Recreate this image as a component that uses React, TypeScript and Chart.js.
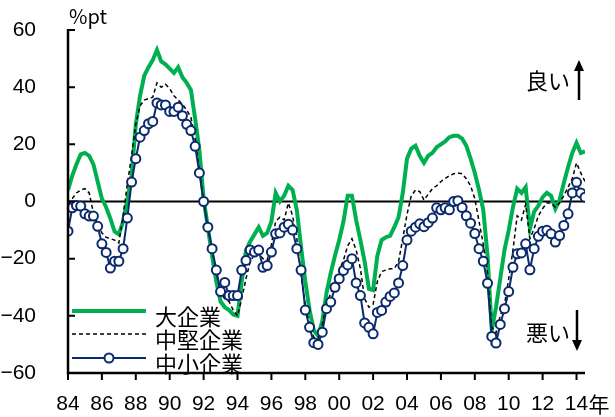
import React, { useEffect, useRef } from "react";
import { Chart, registerables } from "chart.js";

Chart.register(...registerables);

// Quarterly data starting 1984 Q1
const START_YEAR = 1984;
const END_YEAR = 2014.5;

const largeDI = [
  4, 9, 13, 16.5, 17, 16, 13, 7, 1, -2,
  -6, -10.5, -11.5, -7, 0.5, 9, 27, 37, 44, 47,
  49.5, 53, 49, 48, 46.5, 45, 47, 43.5, 41.5, 39,
  29, 18, 1, -9, -19, -28, -35, -37, -38, -39.5,
  -40, -28, -17, -14, -11.5, -9, -12, -11, -7, 3,
  0, 2, 5.5, 4, -3, -16, -28, -38, -45, -47,
  -42, -32, -25, -19, -13.5, -7, 2, 2, -6.5, -13.5,
  -21, -30.5, -31, -19, -13.5, -12.5, -12, -9, -5.5, 3,
  15, 18.5, 19.5, 16, 13.5, 16, 17, 19, 20, 21,
  22.5, 23, 23, 22, 19.5, 15, 10, 4, -3, -19,
  -45, -37, -27, -17, -10, -2, 4.5, 3, 5, -9.5,
  -3.5, -1.5, 1.5, 3, 2, -2.5, 0.5, 6.5, 12, 17,
  20.5, 17, 17.5,
];

const mediumDI = [
  -1, 1, 3, 4, 4.5, 3, -4, -8, -11, -12.5,
  -13, -13.5, -14.5, -5, 6, 16, 27, 33.5, 35.5, 36,
  36.5, 41.5, 40, 41, 39.5, 37, 35.5, 34, 32, 29.5,
  22, 11, 0.5, -9, -17, -25, -32, -34, -35, -38,
  -40, -34, -27, -21, -18.5, -18, -20, -20.5, -15, -7,
  -5.5, -6.5, -0.5, -5, -13, -26, -36, -43, -47.5, -48,
  -43, -36, -32, -28, -24, -20.5, -15.5, -13, -17, -23.5,
  -34, -37, -36, -28, -24.5, -24, -23.5, -23.5, -21, -13,
  -4.5, 2, 4, 3.5, 0.5, 2.5, 4.5, 5.5, 7, 8,
  9, 9.7, 10, 9.7, 8, 5.5, 1, -7, -15, -25,
  -44, -46, -40, -36, -27, -17, -5, -6.5, -1, -13,
  -9.5, -5, -2.5, -0.5, -0.5, -2, -0.5, 2, 5, 8,
  13.5, 10, 7,
];

const smallDI = [
  -10.4, -2.2, -1.4, -1.6, -4.3, -5.1, -5.1, -8.7, -14.8, -17.8,
  -23.3, -20.9, -20.9, -16.5, -5.8, 6.8, 15, 22.5, 24.8, 27.2,
  28, 34.5, 33.8, 33.8, 31.5, 31.5, 33, 30, 27, 24.8,
  19.3, 10, 0, -9, -16.5, -24, -31.5, -28.3, -32.9, -32.9,
  -32.9, -24, -20.6, -17, -17.7, -17, -23, -22.4, -17.7, -11.3,
  -11, -9, -8, -10, -16.5, -24, -38, -44, -49.4, -50,
  -45.7, -37.5, -35.2, -30, -27, -24.1, -22.2, -20, -28.5, -32.9,
  -42.5, -44, -46.3, -38.8, -38.1, -35.2, -33.2, -32, -28.5, -22.4,
  -13.5, -10.4, -9, -7.8, -8.8, -7.4, -5.8, -2.2, -2.9, -2.2,
  -2.9, 0, 0.3, -2.1, -5, -7.6, -11.2, -16.5, -20.9, -28.6,
  -47.2, -49.5, -43, -37.5, -31.5, -23, -18.3, -18, -14.8, -23.9,
  -16.5, -12.2, -10.4, -10.1, -11.3, -14.2, -11.9, -8.4, -4.3, 3,
  6.7, 3, 1.5,
];

const yearTickLabels = [
  "84", "86", "88", "90", "92", "94", "96", "98",
  "00", "02", "04", "06", "08", "10", "12", "14",
];
const yearSuffix = "年";
const yTickValues = [-60, -40, -20, 0, 20, 40, 60];
const legendLabels = ["大企業", "中堅企業", "中小企業"];
const unitLabel = "%pt";
const upLabel = "良い";
const downLabel = "悪い";

const GREEN = "#00B050";
const NAVY = "#0B2A6E";
const JP_FONT = '"Noto Sans CJK JP", "Noto Sans", sans-serif';
const NUM_FONT = '"Liberation Sans", Arial, sans-serif';

const toPoints = (arr: number[]) =>
  arr.map((v, i) => ({ x: START_YEAR + i / 4, y: v }));

const overlayPlugin = {
  id: "overlay",
  beforeDatasetsDraw(chart: any) {
    const { ctx, chartArea, scales } = chart;
    const y0 = scales.y.getPixelForValue(0);
    ctx.save();
    ctx.strokeStyle = "#000";
    ctx.lineWidth = 2;
    ctx.beginPath();
    ctx.moveTo(chartArea.left, y0);
    ctx.lineTo(chartArea.right, y0);
    ctx.stroke();
    ctx.restore();
  },
  afterDatasetsDraw(chart: any) {
    const { ctx, chartArea, scales } = chart;
    const { left, right, top, bottom } = chartArea;
    const xs = scales.x;
    const ys = scales.y;
    ctx.save();
    ctx.strokeStyle = "#000";
    ctx.lineWidth = 2.5;
    ctx.beginPath();
    ctx.moveTo(left, top - 1);
    ctx.lineTo(left, bottom);
    ctx.lineTo(right, bottom);
    ctx.stroke();

    ctx.lineWidth = 2;
    ctx.beginPath();
    yTickValues.forEach((v) => {
      const py = ys.getPixelForValue(v);
      ctx.moveTo(left, py);
      ctx.lineTo(left + 7, py);
    });
    xs.ticks.forEach((t: any) => {
      const px = xs.getPixelForValue(t.value);
      ctx.moveTo(px, bottom);
      ctx.lineTo(px, bottom + 7);
    });
    ctx.stroke();

    // year suffix after last tick label
    const lastTick = xs.ticks[xs.ticks.length - 1];
    const lastPx = xs.getPixelForValue(lastTick.value);
    ctx.fillStyle = "#000";
    ctx.font = `21px ${JP_FONT}`;
    ctx.textAlign = "left";
    ctx.textBaseline = "middle";
    ctx.fillText(yearSuffix, lastPx + 12, 404);

    // unit label
    ctx.font = `20px ${JP_FONT}`;
    ctx.fillText(unitLabel, 69, 16);

    // good / bad annotations
    ctx.font = `22px ${JP_FONT}`;
    ctx.fillText(upLabel, 526, 81);
    ctx.fillText(downLabel, 526, 333);

    const drawArrow = (x: number, y1: number, y2: number) => {
      const dir = y2 < y1 ? -1 : 1;
      ctx.lineWidth = 2.5;
      ctx.beginPath();
      ctx.moveTo(x, y1);
      ctx.lineTo(x, y2 - dir * 9);
      ctx.stroke();
      ctx.beginPath();
      ctx.moveTo(x, y2);
      ctx.lineTo(x - 5, y2 - dir * 11);
      ctx.lineTo(x + 5, y2 - dir * 11);
      ctx.closePath();
      ctx.fill();
    };
    drawArrow(579, 100, 60);
    drawArrow(577, 310, 351);

    // legend
    const lx1 = 72;
    const lx2 = 146;
    const rows = [311, 334, 358];
    ctx.lineWidth = 4;
    ctx.strokeStyle = GREEN;
    ctx.beginPath();
    ctx.moveTo(lx1, rows[0]);
    ctx.lineTo(lx2, rows[0]);
    ctx.stroke();

    ctx.lineWidth = 1.5;
    ctx.strokeStyle = "#000";
    ctx.setLineDash([4, 3]);
    ctx.beginPath();
    ctx.moveTo(lx1, rows[1]);
    ctx.lineTo(lx2, rows[1]);
    ctx.stroke();
    ctx.setLineDash([]);

    ctx.lineWidth = 2;
    ctx.strokeStyle = NAVY;
    ctx.beginPath();
    ctx.moveTo(lx1, rows[2]);
    ctx.lineTo(lx2, rows[2]);
    ctx.stroke();
    ctx.fillStyle = "#fff";
    ctx.beginPath();
    ctx.arc((lx1 + lx2) / 2, rows[2], 4.5, 0, Math.PI * 2);
    ctx.fill();
    ctx.stroke();

    ctx.fillStyle = "#000";
    ctx.font = `22px ${JP_FONT}`;
    ctx.textAlign = "left";
    ctx.textBaseline = "middle";
    legendLabels.forEach((label, i) => {
      ctx.fillText(label, 155, rows[i] + 6);
    });
    ctx.restore();
  },
};

export default function App() {
  const canvasRef = useRef<HTMLCanvasElement | null>(null);

  useEffect(() => {
    if (!canvasRef.current) return;
    const chart = new Chart(canvasRef.current, {
      type: "line",
      data: {
        datasets: [
          {
            label: legendLabels[0],
            data: toPoints(largeDI),
            borderColor: GREEN,
            borderWidth: 4,
            pointRadius: 0,
            tension: 0,
            order: 2,
          },
          {
            label: legendLabels[1],
            data: toPoints(mediumDI),
            borderColor: "#000",
            borderWidth: 1.5,
            borderDash: [4, 3],
            pointRadius: 0,
            tension: 0,
            order: 1,
          },
          {
            label: legendLabels[2],
            data: toPoints(smallDI),
            borderColor: NAVY,
            borderWidth: 2,
            pointRadius: 4.5,
            pointBorderWidth: 2,
            pointBackgroundColor: "#fff",
            pointBorderColor: NAVY,
            tension: 0,
            order: 0,
          },
        ],
      },
      options: {
        responsive: false,
        animation: false,
        events: [],
        layout: { padding: { left: 0, top: 30, right: 30, bottom: 0 } },
        plugins: {
          legend: { display: false },
          tooltip: { enabled: false },
          title: { display: false },
        },
        scales: {
          x: {
            type: "linear",
            min: START_YEAR,
            max: END_YEAR,
            grid: { display: false },
            border: { display: false },
            ticks: {
              stepSize: 2,
              includeBounds: false,
              autoSkip: false,
              maxRotation: 0,
              minRotation: 0,
              padding: 11,
              color: "#000",
              font: { family: NUM_FONT, size: 21 },
              callback: (v: any) => {
                const idx = Math.round((Number(v) - START_YEAR) / 2);
                return yearTickLabels[idx] ?? "";
              },
            },
            afterFit: (s: any) => {
              s.height = 44;
              s.paddingLeft = 0;
              s.paddingRight = 0;
            },
          },
          y: {
            min: -60,
            max: 60,
            grid: { display: false },
            border: { display: false },
            ticks: {
              stepSize: 20,
              padding: 24,
              color: "#000",
              font: { family: NUM_FONT, size: 21 },
              callback: (v: any) =>
                Number(v) < 0 ? "\u2212" + Math.abs(Number(v)) : String(v),
            },
            afterFit: (s: any) => {
              s.width = 68;
              s.paddingTop = 0;
              s.paddingBottom = 0;
            },
          },
        },
      },
      plugins: [overlayPlugin],
    });
    return () => chart.destroy();
  }, []);

  return (
    <div
      style={{
        position: "fixed",
        left: 0,
        top: 0,
        width: 615,
        height: 417,
        background: "#fff",
      }}
    >
      <canvas
        ref={canvasRef}
        width={615}
        height={417}
        style={{ display: "block" }}
      />
    </div>
  );
}
